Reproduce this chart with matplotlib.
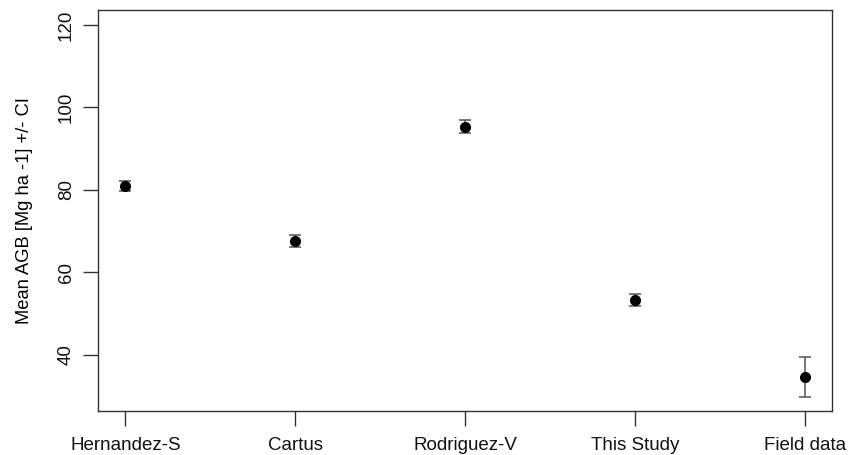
import matplotlib
matplotlib.use("Agg")
import matplotlib.pyplot as plt

plt.rcParams['font.family'] = ['Liberation Sans', 'DejaVu Sans']

# AGB estimates per source with confidence interval half-widths
sources = ["Hernandez-S", "Cartus", "Rodriguez-V", "This Study", "Field data"]
mean_agb = [80.8, 67.6, 95.3, 53.2, 34.5]
ci_half = [1.2, 1.4, 1.5, 1.45, 4.9]
y_ticks = [40, 60, 80, 100, 120]

fig = plt.figure(figsize=(8.48, 4.55), dpi=100)
ax = fig.add_axes([0.1159, 0.0974, 0.9811 - 0.1159, 0.978 - 0.0974])

x = list(range(1, len(sources) + 1))
ax.errorbar(x, mean_agb, yerr=ci_half, fmt='none', ecolor='#555555',
            elinewidth=1.1, capsize=4, capthick=1.1, zorder=2)
ax.plot(x, mean_agb, 'o', color='black', markersize=7, zorder=3)

ax.set_xlim(0.84, 5.16)
ax.set_ylim(26.4, 123.6)
ax.set_xticks(x)
ax.set_xticklabels(sources)
ax.set_yticks(y_ticks)
ax.set_yticklabels([str(v) for v in y_ticks], rotation=90, va='center')
ax.set_ylabel("Mean AGB [Mg ha -1] +/- CI", fontsize=13.2, labelpad=18)

for s in ax.spines.values():
    s.set_color('#333333')
    s.set_linewidth(1.0)
ax.tick_params(axis='both', length=11, width=1.0, color='#333333',
               labelsize=13.5, labelcolor='#111111')
ax.tick_params(axis='x', pad=8)
ax.tick_params(axis='y', pad=6)

fig.savefig("out.png", dpi=100)
